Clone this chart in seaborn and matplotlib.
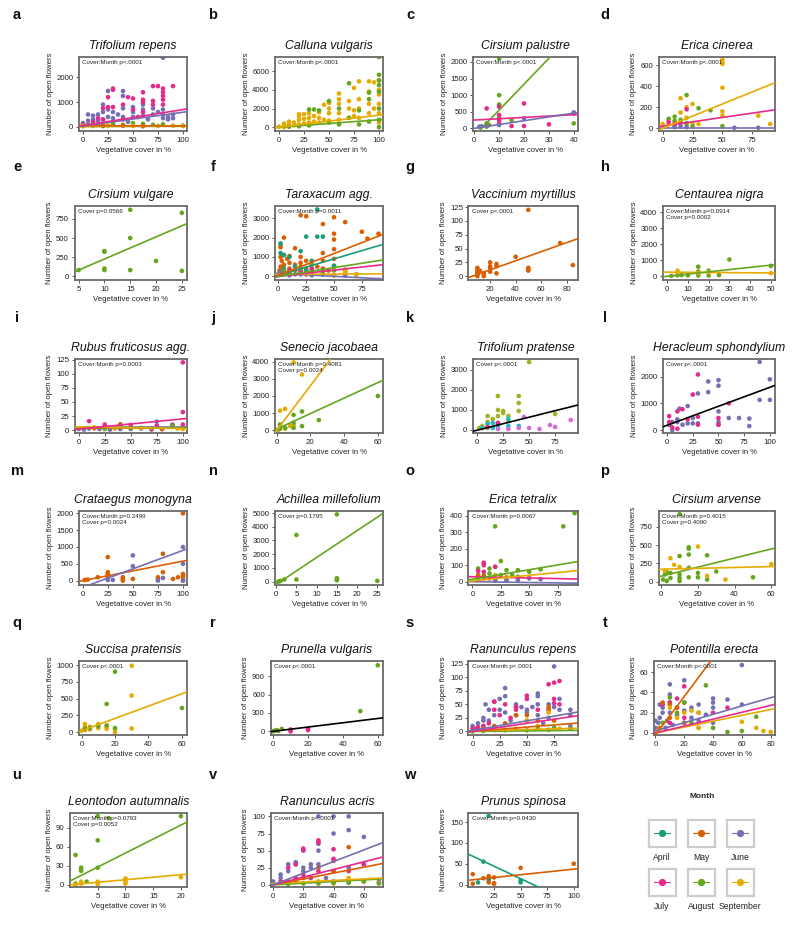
import matplotlib
matplotlib.use("Agg")
import matplotlib.pyplot as plt
import pandas as pd
import seaborn as sns

sns.set_theme(style="white")
plt.rcParams['font.family'] = ['Liberation Sans', 'DejaVu Sans']

# ---------------- colours ----------------
MONTHS = ["April", "May", "June", "July", "August", "September"]
MONTH_COLORS = ["#1B9E77", "#D95F02", "#7570B3", "#E7298A", "#66A61E", "#E6AB02"]
PAL = dict(zip(MONTHS, MONTH_COLORS))
K_COLORS = {"k1": "#A3B31E", "k2": "#1FB8D0", "k3": "#D66BD6", "k4": "#E7298A"}

LETTERS = list("abcdefghijklmnopqrstuvw")
TITLES = ["Trifolium repens", "Calluna vulgaris", "Cirsium palustre", "Erica cinerea",
          "Cirsium vulgare", "Taraxacum agg.", "Vaccinium myrtillus", "Centaurea nigra",
          "Rubus fruticosus agg.", "Senecio jacobaea", "Trifolium pratense", "Heracleum sphondylium",
          "Crataegus monogyna", "Achillea millefolium", "Erica tetralix", "Cirsium arvense",
          "Succisa pratensis", "Prunella vulgaris", "Ranunculus repens", "Potentilla erecta",
          "Leontodon autumnalis", "Ranunculus acris", "Prunus spinosa"]
NOTES = ["Cover:Month p<.0001", "Cover:Month p<.0001", "Cover:Month p<.0001", "Cover:Month p<.0001",
         "Cover p=0.0566", "Cover:Month p=0.0011", "Cover p<.0001", "Cover:Month p=0.0914\nCover p=0.0002",
         "Cover:Month p=0.0003", "Cover:Month p=0.4081\nCover p=0.0024", "Cover p<.0001", "Cover p<.0001",
         "Cover:Month p=0.2499\nCover p=0.0024", "Cover p=0.1795", "Cover:Month p=0.0067",
         "Cover:Month p=0.4015\nCover p=0.4090",
         "Cover p<.0001", "Cover p<.0001", "Cover:Month p<.0001", "Cover:Month p<.0001",
         "Cover:Month p=0.0793\nCover p=0.0052", "Cover:Month p<.0001", "Cover:Month p=0.0430"]
XTICKS = [[0, 25, 50, 75, 100], [0, 25, 50, 75, 100], [0, 10, 20, 30, 40], [0, 25, 50, 75],
          [5, 10, 15, 20, 25], [0, 25, 50, 75], [20, 40, 60, 80], [0, 10, 20, 30, 40, 50],
          [0, 25, 50, 75, 100], [0, 20, 40, 60], [0, 25, 50, 75], [0, 25, 50, 75, 100],
          [0, 25, 50, 75, 100], [0, 5, 10, 15, 20, 25], [0, 25, 50, 75], [0, 20, 40, 60],
          [0, 20, 40, 60], [0, 20, 40, 60], [0, 25, 50, 75], [0, 20, 40, 60, 80],
          [5, 10, 15, 20], [0, 20, 40, 60], [25, 50, 75, 100]]
YTICKS = [[0, 1000, 2000], [0, 2000, 4000, 6000], [0, 500, 1000, 1500, 2000], [0, 200, 400, 600],
          [0, 250, 500, 750], [0, 1000, 2000, 3000], [0, 25, 50, 75, 100, 125], [0, 1000, 2000, 3000, 4000],
          [0, 25, 50, 75, 100, 125], [0, 1000, 2000, 3000, 4000], [0, 1000, 2000, 3000], [0, 1000, 2000],
          [0, 500, 1000, 1500, 2000], [0, 1000, 2000, 3000, 4000, 5000], [0, 100, 200, 300, 400], [0, 250, 500, 750],
          [0, 250, 500, 750, 1000], [0, 300, 600, 900], [0, 25, 50, 75, 100, 125], [0, 20, 40, 60],
          [0, 30, 60, 90], [0, 25, 50, 75, 100], [0, 50, 100, 150]]
XLIMS = [(-4, 104), (-4, 104), (-0.5, 41.7), (-3.5, 94), (4.2, 26), (-3, 94), (3, 89), (-2, 52),
         (-4, 104), (-1, 63), (-4, 97), (-4, 105), (-3.7, 104), (-0.3, 26.4), (-3.5, 93), (-1.5, 62),
         (-1.5, 63), (-1.5, 63), (-3.7, 97), (-1, 83), (0, 21.1), (-1.7, 72.7), (1, 104)]
YLIMS = [(-170, 2830), (-400, 7500), (-80, 2150), (-26, 676), (-50, 920), (-190, 3630), (-7, 127),
         (-230, 4390), (-5, 126), (-150, 4150), (-150, 3550), (-110, 2660), (-130, 2070), (-250, 5150),
         (-20, 428), (-45, 964), (-43, 1060), (-60, 1150), (-6.6, 130), (-2, 71), (-3.4, 113),
         (-3.2, 105), (-6, 172)]

# ---------------- points (cover %, open flowers) per month ----------------
A_PTS = {
    "June": [(80, 2800), (25, 1450), (40, 1450), (40, 1250), (20, 900), (5, 500), (10, 450), (15, 500),
             (20, 600), (25, 700), (30, 600), (35, 500), (40, 750), (50, 800), (50, 600), (60, 900),
             (60, 700), (70, 750), (75, 600), (80, 700), (80, 500), (85, 400), (90, 500), (0, 150),
             (5, 250), (10, 300), (15, 250), (20, 300), (25, 400), (30, 350), (40, 400), (50, 400),
             (60, 450), (70, 500), (80, 350), (90, 350), (5, 100), (15, 100), (30, 150), (45, 200),
             (65, 300), (85, 300)],
    "July": [(30, 1550), (30, 1500), (45, 1200), (50, 1150), (60, 1400), (60, 1100), (60, 1000),
             (70, 1650), (75, 1650), (80, 1550), (80, 1400), (80, 1250), (80, 1100), (90, 1650),
             (25, 1200), (20, 750), (25, 800), (30, 800), (40, 900), (50, 700), (60, 600), (70, 900),
             (70, 1050), (80, 900), (10, 200), (15, 350), (20, 300), (0, 100), (40, 300), (55, 400)],
    "August": [(0, 50), (10, 80), (20, 100), (30, 100), (40, 80), (50, 150), (60, 120), (70, 80),
               (80, 100), (100, 50)],
    "September": [(0, 20), (10, 30), (25, 60), (50, 40), (75, 40), (90, 50), (100, 30)],
    "May": [(20, 30), (40, 40), (60, 20)],
}
B_PTS = {
    "September": [(5, 0), (5, 200), (5, 400), (10, 100), (10, 300), (10, 600), (15, 200), (15, 500),
                  (20, 300), (20, 800), (20, 1200), (20, 1400), (25, 400), (25, 900), (25, 1400),
                  (30, 500), (30, 1000), (30, 1500), (35, 600), (35, 1200), (40, 500), (40, 1000),
                  (40, 1600), (45, 800), (45, 2400), (50, 700), (50, 1500), (50, 2000), (50, 2600),
                  (60, 800), (60, 1500), (60, 2500), (60, 3000), (60, 3600), (70, 1000), (70, 2000),
                  (70, 2800), (75, 1200), (75, 1800), (75, 4200), (80, 1000), (80, 2000), (80, 3000),
                  (80, 4900), (90, 1500), (90, 2500), (90, 4900), (90, 3800), (95, 4800), (95, 2000),
                  (100, 500), (100, 1500), (100, 2500), (100, 3500), (100, 5000), (100, 4000), (0, 50)],
    "August": [(20, 100), (30, 1900), (35, 1900), (40, 1800), (50, 2800), (50, 500), (60, 2000),
               (60, 300), (70, 4700), (70, 1000), (80, 1800), (80, 300), (90, 3700), (90, 3000),
               (90, 600), (100, 7500), (100, 5600), (100, 5000), (100, 4500), (100, 3800), (100, 2000),
               (100, 800), (100, 0), (10, 50), (30, 200)],
}
C_PTS = {
    "August": [(10, 2100), (10, 1000), (10, 720), (10, 700), (5, 150), (5, 100), (5, 50), (6, 100),
               (10, 300), (15, 250), (40, 150)],
    "July": [(5, 600), (10, 650), (10, 400), (10, 250), (20, 750), (20, 70), (15, 70), (30, 120),
             (40, 450), (10, 150)],
    "June": [(2, 50), (3, 60), (10, 100), (40, 480), (40, 450), (20, 300), (5, 80)],
}
D_PTS = {
    "September": [(50, 650), (50, 620), (50, 610), (50, 385), (50, 160), (50, 120), (25, 230), (15, 285),
                  (15, 150), (20, 200), (20, 100), (30, 40), (25, 50), (10, 60), (5, 40), (0, 40),
                  (80, 120), (90, 40), (10, 20), (20, 30)],
    "August": [(20, 315), (30, 190), (40, 170), (10, 110), (5, 90), (15, 80), (20, 50), (50, 20),
               (25, 20), (10, 70)],
    "July": [(20, 180), (5, 60), (10, 40), (15, 50)],
    "June": [(10, 10), (60, 5), (80, 5), (20, 10), (15, 20)],
}
E_PTS = {"August": [(5, 80), (10, 330), (10, 320), (10, 100), (10, 80), (15, 870), (15, 500), (15, 80),
                    (20, 200), (25, 830), (25, 70)]}
F_PTS = {
    "May": [(0, 100), (1, 300), (2, 500), (2, 1000), (2, 1500), (2, 1600), (3, 800), (3, 400), (5, 2000),
            (5, 1100), (5, 600), (5, 300), (5, 100), (8, 900), (10, 1050), (10, 700), (10, 400), (10, 200),
            (15, 1450), (15, 600), (15, 300), (20, 3150), (20, 1000), (20, 700), (20, 500), (20, 200),
            (25, 3100), (25, 800), (25, 400), (25, 100), (30, 600), (30, 300), (40, 2700), (40, 1200),
            (40, 800), (40, 400), (50, 3050), (50, 2200), (50, 1900), (50, 1400), (50, 900), (50, 500),
            (60, 2800), (60, 300), (75, 2300), (80, 1950), (90, 2200), (70, 100), (35, 500), (45, 300)],
    "April": [(35, 3450), (25, 2050), (35, 2050), (40, 2050), (2, 1700), (2, 1200), (10, 1000), (20, 1300),
              (30, 800), (50, 550), (5, 1100), (15, 500), (25, 300), (5, 400), (10, 100)],
    "June": [(0, 50), (2, 100), (5, 150), (10, 50), (15, 100), (20, 200), (25, 150), (30, 100), (40, 80),
             (50, 50), (60, 30), (60, 150), (5, 300), (2, 250), (10, 200), (20, 100), (30, 50)],
    "July": [(5, 200), (10, 300), (20, 300), (30, 400), (40, 300)],
    "August": [(30, 600), (20, 400), (5, 300), (10, 200), (40, 200), (50, 300)],
    "September": [(60, 200), (70, 100), (50, 50), (60, 350), (60, 250)],
}
G_PTS = {"May": [(10, 5), (10, 8), (10, 12), (10, 15), (10, 3), (10, 0), (12, 10), (15, 2), (15, 0), (15, 5),
                 (20, 25), (20, 15), (20, 8), (20, 18), (25, 22), (25, 18), (25, 5), (40, 35), (50, 120),
                 (50, 15), (50, 12), (50, 10), (75, 60), (85, 20)]}
H_PTS = {
    "August": [(2, 30), (5, 60), (7, 80), (10, 60), (10, 100), (15, 600), (15, 300), (15, 50), (20, 350),
               (20, 50), (25, 80), (30, 1050), (50, 650)],
    "September": [(5, 350), (5, 200), (15, 200), (20, 250), (50, 200)],
}
I_PTS = {
    "June": [(75, 15), (90, 10), (0, 2), (5, 1), (10, 3), (20, 2), (30, 1), (50, 2), (60, 3), (70, 1),
             (80, 2), (100, 5), (25, 5), (40, 2)],
    "July": [(100, 120), (100, 32), (10, 16), (25, 10), (100, 10), (50, 9), (40, 10), (75, 8), (90, 9)],
    "May": [(40, 10), (15, 3), (80, 2), (70, 3)],
    "September": [(15, 5), (35, 3), (100, 2), (60, 4), (95, 3)],
    "August": [(50, 4), (25, 2), (90, 8)],
}
J_PTS = {
    "September": [(10, 3950), (15, 3250), (5, 1250), (2, 1150), (5, 100), (2, 200), (10, 300), (8, 250)],
    "August": [(60, 2000), (25, 600), (15, 1100), (15, 250), (10, 900), (10, 450), (10, 150), (2, 350),
               (2, 100), (5, 150), (1, 50)],
}
K_PTS = {
    "k1": [(50, 3400), (20, 1700), (40, 1700), (40, 1350), (20, 1000), (40, 950), (25, 950), (25, 850),
           (20, 700), (30, 700), (10, 700), (15, 550), (10, 400), (30, 450), (5, 200), (75, 800), (2, 100),
           (10, 100), (20, 350)],
    "k2": [(15, 350), (30, 550), (30, 200), (40, 200), (10, 300), (20, 200), (5, 100), (15, 100)],
    "k3": [(45, 650), (50, 100), (60, 50), (70, 250), (75, 150), (90, 500), (40, 100), (30, 50), (20, 50)],
    "k4": [(20, 350), (10, 150)],
}
L_PTS = {
    "June": [(90, 2550), (100, 1900), (50, 1870), (50, 1660), (40, 1820), (40, 1420), (30, 1370), (20, 900),
             (12, 800), (10, 400), (5, 300), (2, 200), (15, 200), (20, 250), (25, 250), (30, 250), (50, 700),
             (50, 300), (50, 200), (60, 450), (70, 450), (80, 430), (80, 150), (90, 1130), (100, 1130),
             (5, 0), (10, 300), (25, 450)],
    "July": [(30, 2080), (25, 1330), (10, 700), (15, 780), (2, 520), (2, 300), (5, 100), (10, 50), (30, 500),
             (30, 200), (50, 450), (50, 200), (60, 1000), (20, 400)],
}
M_PTS = {
    "May": [(100, 2000), (25, 700), (80, 800), (80, 250), (100, 200), (100, 150), (100, 100), (95, 100),
            (90, 50), (75, 100), (75, 50), (50, 50), (40, 100), (40, 50), (25, 250), (25, 200), (25, 150),
            (25, 100), (15, 100), (5, 30), (2, 20), (40, 0), (100, 0)],
    "June": [(100, 1000), (100, 500), (50, 750), (50, 430), (80, 80), (30, 20), (25, 20), (75, 0), (100, 0)],
}
N_PTS = {"August": [(15, 4900), (5, 3400), (5, 150), (15, 250), (15, 150), (15, 100), (25, 50), (2, 150),
                    (1, 50), (0.5, 0)]}
O_PTS = {
    "August": [(90, 415), (80, 335), (20, 335), (25, 125), (10, 110), (15, 80), (5, 80), (20, 90), (30, 70),
               (40, 70), (60, 75), (50, 60), (15, 50), (10, 40), (25, 40), (35, 40), (40, 30), (5, 20),
               (20, 20), (30, 10)],
    "July": [(10, 115), (10, 100), (5, 65), (20, 90), (10, 60), (5, 30), (15, 20)],
    "September": [(20, 40), (30, 30), (40, 20), (10, 20), (50, 30)],
    "May": [(5, 40), (10, 30), (20, 10)],
    "June": [(20, 5), (40, 10), (60, 15), (50, 20), (30, 5)],
}
P_PTS = {
    "August": [(10, 920), (15, 470), (15, 450), (15, 370), (10, 350), (25, 360), (5, 120), (3, 130), (2, 100),
               (3, 10), (5, 50), (10, 100), (10, 50), (10, 10), (15, 60), (20, 60), (20, 120), (25, 30),
               (30, 140), (50, 60), (15, 190), (1, 30)],
    "September": [(5, 320), (7, 230), (20, 480), (35, 30), (60, 240), (25, 80), (2, 150), (10, 200)],
}
Q_PTS = {
    "September": [(30, 990), (30, 545), (30, 55), (20, 0), (2, 120), (2, 80), (5, 80), (10, 120), (10, 60),
                  (15, 80), (15, 50), (20, 50), (5, 40), (2, 30), (0, 20)],
    "August": [(20, 900), (15, 420), (60, 360), (20, 60), (10, 90), (5, 60), (2, 50), (15, 100)],
}
R_PTS = {
    "August": [(60, 1080), (50, 330), (5, 40), (2, 20), (1, 10), (3, 5), (0, 0)],
    "July": [(10, 30), (10, 0), (20, 40), (20, 20)],
}
S_PTS = {
    "June": [(75, 120), (30, 80), (30, 65), (12, 50), (15, 40), (20, 55), (25, 60), (25, 40), (40, 50),
             (40, 45), (50, 40), (50, 35), (60, 70), (60, 65), (60, 50), (70, 50), (75, 45), (80, 60),
             (90, 40), (90, 30), (10, 25), (10, 20), (5, 15), (0, 10), (2, 5), (20, 30), (30, 35), (40, 30),
             (50, 20), (60, 30), (70, 25), (80, 40), (90, 10), (65, 15), (45, 45), (55, 45), (35, 20),
             (15, 20), (5, 5), (10, 10)],
    "July": [(70, 87), (75, 90), (80, 93), (75, 60), (75, 52), (80, 50), (50, 66), (50, 60), (40, 45),
             (40, 40), (30, 50), (20, 55), (20, 40), (25, 30), (10, 10), (5, 8), (15, 15), (60, 40),
             (70, 40), (35, 25), (0, 5), (2, 3)],
    "May": [(70, 45), (70, 40), (50, 30), (40, 30), (60, 20), (30, 15), (20, 10), (10, 5), (75, 20)],
    "September": [(70, 35), (50, 20), (60, 10), (80, 5), (40, 5), (20, 2)],
    "August": [(50, 2), (70, 3), (90, 5), (30, 2), (10, 1), (0, 0), (60, 5), (75, 7)],
}
T_PTS = {
    "June": [(60, 67), (20, 52), (10, 48), (50, 33), (40, 34), (60, 28), (0, 5), (2, 10), (3, 15), (5, 20),
             (5, 25), (8, 12), (10, 20), (10, 30), (10, 38), (12, 8), (15, 18), (15, 25), (20, 10), (20, 22),
             (20, 30), (25, 15), (25, 25), (30, 12), (30, 20), (30, 28), (35, 18), (40, 10), (40, 25),
             (40, 30), (0, 12), (3, 28), (7, 5)],
    "July": [(20, 46), (15, 34), (10, 30), (5, 28), (50, 25), (40, 20), (20, 15), (10, 10)],
    "May": [(5, 30), (10, 28), (15, 25), (10, 15), (20, 10), (3, 5)],
    "August": [(35, 47), (20, 30), (10, 35), (15, 20), (70, 16), (60, 2), (50, 1), (40, 5), (30, 5),
               (25, 10), (5, 10)],
    "September": [(60, 11), (70, 5), (75, 2), (80, 1), (25, 22), (30, 20), (20, 20), (10, 25), (15, 15),
                  (30, 5)],
}
U_PTS = {
    "August": [(5, 108), (7, 105), (20, 108), (5, 70), (1, 47), (2, 27), (2, 25), (2, 22), (5, 27), (3, 5),
               (1, 2)],
    "September": [(2, 5), (2, 2), (5, 5), (5, 1), (10, 10), (10, 8), (10, 5), (10, 2), (20, 12), (1, 0)],
}
V_PTS = {
    "June": [(30, 100), (40, 100), (50, 100), (40, 75), (50, 80), (60, 70), (30, 60), (30, 50), (20, 50),
             (15, 33), (10, 30), (15, 30), (25, 30), (30, 30), (20, 25), (10, 20), (5, 15), (0, 5), (5, 10),
             (20, 20), (40, 20), (50, 25), (60, 30), (70, 5), (50, 5), (40, 5), (25, 25), (35, 10)],
    "July": [(30, 65), (30, 62), (20, 53), (20, 51), (40, 52), (40, 38), (40, 35), (15, 30), (10, 25),
             (20, 15), (30, 20), (50, 20), (60, 30), (5, 5), (15, 10), (25, 10)],
    "May": [(50, 55), (30, 25), (40, 20), (20, 10), (10, 5), (60, 5), (15, 5)],
    "September": [(40, 2), (50, 10), (30, 5), (70, 3)],
    "August": [(60, 5), (70, 2), (50, 3), (20, 2), (10, 1), (40, 3), (30, 2)],
}
W_PTS = {
    "April": [(20, 165), (15, 55), (10, 5), (20, 10), (50, 10), (50, 5), (20, 15)],
    "May": [(50, 40), (100, 50), (5, 25), (5, 2), (15, 15), (20, 20), (25, 17), (25, 3), (25, 2), (20, 5)],
}
POINTS = [A_PTS, B_PTS, C_PTS, D_PTS, E_PTS, F_PTS, G_PTS, H_PTS, I_PTS, J_PTS, K_PTS, L_PTS,
          M_PTS, N_PTS, O_PTS, P_PTS, Q_PTS, R_PTS, S_PTS, T_PTS, U_PTS, V_PTS, W_PTS]

# ---------------- fitted lines: (intercept, slope) per month ----------------
LINES = [
    {"August": (10, 0.1), "September": (20, 0.1), "May": (45, -0.1), "June": (40, 5.5), "July": (50, 6.5)},
    {"August": (0, 8.0), "September": (0, 13.0)},
    {"August": (-230, 78.0), "July": (250, 4.0), "June": (0, 11.5)},
    {"June": (5, 0.0), "July": (20, 1.65), "September": (0, 4.6)},
    {"August": (-65, 29.0)},
    {"June": (150, -3.0), "September": (100, 0.3), "July": (0, 6.4), "August": (0, 9.0),
     "April": (50, 17.0), "May": (50, 22.5)},
    {"May": (-5, 0.82)},
    {"September": (260, -1.0), "August": (0, 14.0)},
    {"May": (4, 0.0), "June": (5, 0.0), "August": (5, -0.01), "September": (6, -0.03), "July": (2, 0.18)},
    {"August": (80, 45.0), "September": (0, 130.0)},
    {"all": (-10, 13.0)},
    {"all": (180, 14.2)},
    {"May": (0, 5.8), "June": (-200, 11.0)},
    {"August": (-200, 196.0)},
    {"June": (0, -0.1), "July": (30, -0.15), "September": (5, 0.67), "August": (15, 1.15)},
    {"August": (75, 6.2), "September": (170, 0.6)},
    {"September": (20, 9.2)},
    {"all": (0, 3.5)},
    {"August": (0, 0.02), "September": (1, 0.05), "May": (0, 0.16), "July": (0, 0.3), "June": (2, 0.35)},
    {"September": (0, 0.29), "July": (0, 0.34), "June": (2, 0.41), "May": (-2, 1.9)},
    {"September": (0, 0.8), "August": (6, 4.4)},
    {"August": (0, 0.12), "September": (2, 0.11), "May": (0, 0.43), "July": (0, 0.56), "June": (0, 0.85)},
    {"April": (74, -1.2), "May": (10, 0.27)},
]

# ---------------- layout (pixels) ----------------
W, H = 800, 926
fig = plt.figure(figsize=(W / 100, H / 100), dpi=100)

COL_BASE = [61, 257, 455, 645]
COL_RIGHT = [187, 383, 578, 775]
ROW_TOP = [57, 206, 359, 511, 661, 813]
AX_H = 74
LETTER_X = [17, 213, 410, 605]
LETTER_Y = [15, 167, 318, 471, 623, 775]
TXT = "#222222"


def px_axes(left, top, width, height):
    return fig.add_axes([left / W, 1 - (top + height) / H, width / W, height / H])


for i in range(23):
    row, col = divmod(i, 4)
    nd = max(len(str(t)) for t in YTICKS[i])
    left = COL_BASE[col] + 4.5 * nd
    ax = px_axes(left, ROW_TOP[row], COL_RIGHT[col] - left, AX_H)

    pts = POINTS[i]
    df = pd.DataFrame([(x, y, g) for g, lst in pts.items() for x, y in lst],
                      columns=["cover", "flowers", "group"])
    pal = K_COLORS if i == 10 else PAL
    sns.scatterplot(data=df, x="cover", y="flowers", hue="group", palette=pal, s=11,
                    linewidth=0, legend=False, ax=ax, zorder=2)
    for g, (b, k) in LINES[i].items():
        ax.axline((0, b), slope=k, color=PAL.get(g, "black"), lw=1.2, zorder=3)

    ax.set_xlim(*XLIMS[i])
    ax.set_ylim(*YLIMS[i])
    ax.set_xticks(XTICKS[i])
    ax.set_xticklabels([str(t) for t in XTICKS[i]])
    ax.set_yticks(YTICKS[i])
    ax.set_yticklabels([str(t) for t in YTICKS[i]])
    ax.tick_params(bottom=True, left=True, length=2.5, width=0.7, color="#555555",
                   labelsize=5.6, labelcolor=TXT, pad=1.5, direction="out")
    for s in ax.spines.values():
        s.set_color("#6a6a6a")
        s.set_linewidth(1.3)
    ax.set_xlabel("Vegetative cover in %", fontsize=5.6, color=TXT, labelpad=2.5)
    ax.set_ylabel("Number of open flowers", fontsize=5.6, color=TXT, labelpad=2)
    ax.set_title(TITLES[i], fontsize=8.8, style="italic", color="#111111", pad=5.5)
    ax.annotate(NOTES[i], xy=(0, 1), xycoords="axes fraction", xytext=(2.5, -2.5),
                textcoords="offset points", va="top", ha="left", fontsize=4.5,
                color=TXT, linespacing=1.1)
    fig.text(LETTER_X[col] / W, 1 - LETTER_Y[row] / H, LETTERS[i], fontsize=10.5,
             fontweight="bold", ha="center", va="center", color="#111111")

# ---------------- legend ----------------
fig.text(702 / W, 1 - 797 / H, "Month", fontsize=6, fontweight="bold", ha="center", va="center")
KEY_X = [662, 701, 740]
KEY_Y = [833, 882]
BOX = 27
for j, m in enumerate(MONTHS):
    cx, cy = KEY_X[j % 3], KEY_Y[j // 3]
    kax = px_axes(cx - BOX / 2, cy - BOX / 2, BOX, BOX)
    kax.set_xlim(0, 1)
    kax.set_ylim(0, 1)
    kax.set_xticks([])
    kax.set_yticks([])
    kax.set_facecolor("white")
    for s in kax.spines.values():
        s.set_color("#cccccc")
        s.set_linewidth(1.6)
    kax.plot([0.2, 0.8], [0.5, 0.5], color=PAL[m], lw=0.8)
    kax.plot([0.5], [0.5], "o", color=PAL[m], ms=4.2)
    fig.text(cx / W, 1 - (cy + 27) / H, m, fontsize=6.2, ha="center", va="baseline", color=TXT)

fig.savefig("out.png", dpi=100)
